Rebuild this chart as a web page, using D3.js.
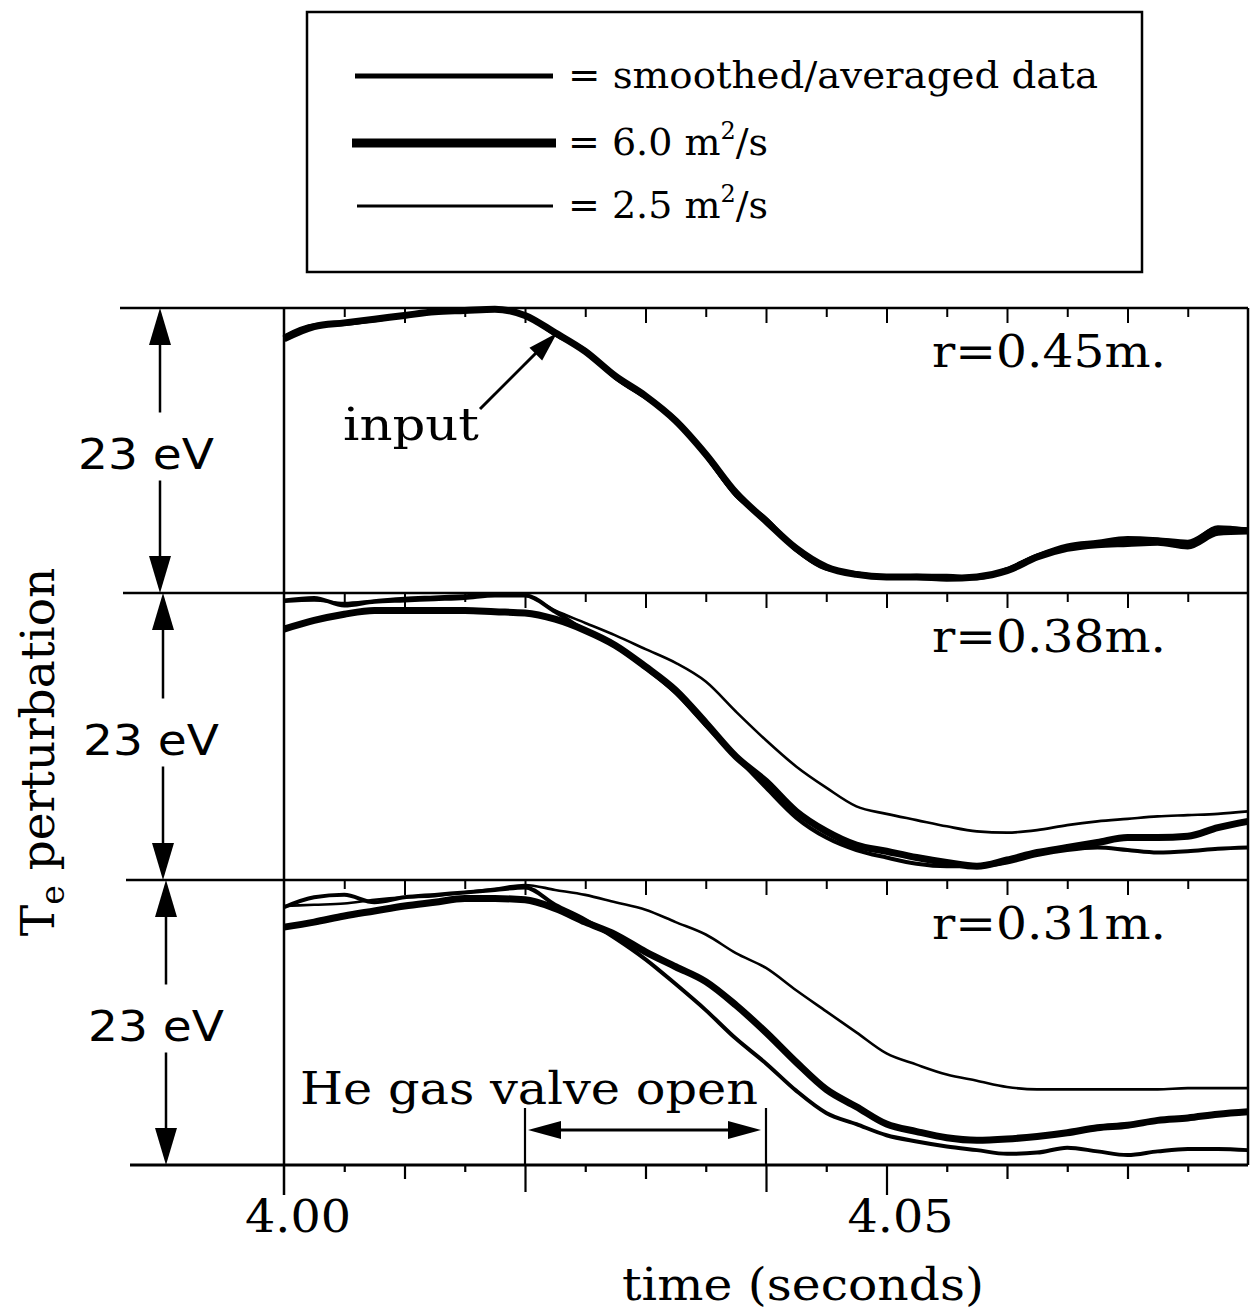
<!DOCTYPE html>
<html>
<head>
<meta charset="utf-8">
<script src="https://cdn.jsdelivr.net/npm/d3@7/dist/d3.min.js"></script>
<style>
  body { margin: 0; background: #fff; }
  text { fill: #000; }
</style>
</head>
<body>
<div id="chart"></div>
<script>
// time grid of the traces (s)
const TIMES = [4.0000, 4.0025, 4.0050, 4.0075, 4.0100, 4.0125, 4.0150, 4.0175, 4.0200, 4.0225,
               4.0250, 4.0275, 4.0300, 4.0325, 4.0350, 4.0375, 4.0400, 4.0425, 4.0450, 4.0475,
               4.0500, 4.0525, 4.0550, 4.0575, 4.0600, 4.0625, 4.0650, 4.0675, 4.0700, 4.0725,
               4.0750, 4.0775, 4.0800];

const PANEL_LABELS = ['r=0.45m.', 'r=0.38m.', 'r=0.31m.'];
const SPAN_EV = 23;

// Te perturbation (eV above the panel baseline), r = 0.45 m
const SMOOTHED_045 = [20.7, 21.6, 21.7, 22.0, 22.4, 22.7, 22.8, 22.9, 22.4, 20.9, 19.6, 17.4, 15.8, 14.0, 11.1, 7.9,
                      6.0, 3.5, 2.0, 1.6, 1.3, 1.4, 1.4, 1.2, 1.9, 3.0, 3.7, 4.0, 4.3, 4.3, 4.0, 5.3, 5.1];
const CHI60_045 = [20.5, 21.5, 21.8, 22.1, 22.4, 22.7, 22.8, 22.9, 22.4, 21.0, 19.5, 17.5, 15.9, 13.9, 11.2, 8.1,
                   5.8, 3.6, 2.1, 1.5, 1.3, 1.3, 1.2, 1.3, 1.8, 2.9, 3.6, 3.9, 4.0, 4.1, 3.8, 4.9, 5.0];
const CHI25_045 = [20.7, 21.6, 21.7, 22.0, 22.3, 22.6, 22.8, 22.9, 22.4, 20.8, 19.5, 17.3, 15.7, 14.0, 11.0, 7.8,
                   5.9, 3.4, 1.9, 1.6, 1.4, 1.4, 1.3, 1.2, 2.0, 3.1, 3.9, 4.2, 4.5, 4.4, 4.2, 5.3, 5.2];

// r = 0.38 m
const SMOOTHED_038 = [22.4, 22.6, 22.0, 22.3, 22.4, 22.5, 22.6, 22.8, 22.8, 21.5, 20.0, 18.7, 17.0, 15.0, 12.4, 9.9,
                      7.4, 5.0, 3.4, 2.4, 1.8, 1.3, 1.1, 1.1, 1.4, 2.0, 2.4, 2.6, 2.4, 2.2, 2.3, 2.5, 2.6];
const CHI60_038 = [20.1, 20.8, 21.3, 21.6, 21.6, 21.6, 21.6, 21.5, 21.4, 20.9, 20.0, 18.8, 17.1, 15.2, 12.6, 9.9,
                   7.9, 5.5, 3.9, 2.8, 2.3, 1.8, 1.4, 1.1, 1.6, 2.2, 2.6, 3.0, 3.4, 3.4, 3.5, 4.2, 4.7];
const CHI25_038 = [22.3, 22.4, 22.2, 22.4, 22.6, 22.7, 22.8, 22.9, 22.8, 21.6, 20.6, 19.6, 18.5, 17.4, 15.9, 13.5,
                   11.2, 9.1, 7.4, 5.9, 5.3, 4.8, 4.3, 3.9, 3.8, 4.0, 4.4, 4.7, 4.9, 5.1, 5.2, 5.3, 5.5];

// r = 0.31 m
const SMOOTHED_031 = [20.8, 21.6, 21.8, 21.2, 21.6, 21.8, 22.0, 22.2, 22.4, 21.0, 19.8, 18.3, 16.6, 14.6, 12.5, 10.2,
                      8.2, 6.0, 4.2, 3.3, 2.4, 1.9, 1.5, 1.2, 0.9, 1.0, 1.4, 1.1, 0.8, 1.1, 1.3, 1.3, 1.2];
const CHI60_031 = [19.2, 19.6, 20.1, 20.5, 20.9, 21.2, 21.5, 21.5, 21.4, 20.7, 19.6, 18.6, 17.2, 16.0, 14.8, 12.9,
                   10.7, 8.3, 6.1, 4.7, 3.3, 2.7, 2.2, 2.0, 2.1, 2.3, 2.6, 3.0, 3.2, 3.6, 3.8, 4.1, 4.3];
const CHI25_031 = [20.9, 21.0, 21.1, 21.4, 21.6, 21.7, 22.0, 22.3, 22.6, 22.2, 21.8, 21.2, 20.6, 19.6, 18.6, 17.1,
                   15.9, 14.1, 12.4, 10.7, 9.0, 8.1, 7.3, 6.8, 6.3, 6.1, 6.1, 6.1, 6.1, 6.1, 6.2, 6.2, 6.2];

const SERIES_NAMES = ['smoothed/averaged data', '6.0 m²/s', '2.5 m²/s'];
const PANEL_SERIES = [
  [SMOOTHED_045, CHI60_045, CHI25_045],
  [SMOOTHED_038, CHI60_038, CHI25_038],
  [SMOOTHED_031, CHI60_031, CHI25_031],
];

const X_LABELS = [4.00, 4.05];
const VALVE_OPEN = [4.02, 4.04];

// ---- layout ----
const W = 1250, H = 1315;
const SERIF = '"DejaVu Serif", "Liberation Serif", serif';
const SANS = '"DejaVu Sans", "Liberation Sans", sans-serif';
const PANEL_TOPS = [308, 593, 880];
const PANEL_BOTTOM = 1165;
const STROKES = [4, 7, 2.6];

const svg = d3.select('#chart').append('svg')
  .attr('width', W).attr('height', H)
  .style('font-family', SERIF);

const x = d3.scaleLinear().domain([4.00, 4.08]).range([284, 1248]);

function arrowHead(g, tipX, tipY, dirX, dirY, len, half) {
  const bx = tipX - dirX * len, by = tipY - dirY * len;
  const px = -dirY * half, py = dirX * half;
  g.append('path')
    .attr('d', `M${tipX},${tipY}L${bx + px},${by + py}L${bx - px},${by - py}Z`)
    .attr('fill', '#000');
}

// ---- legend ----
const legend = svg.append('g');
legend.append('rect')
  .attr('x', 307).attr('y', 12).attr('width', 835).attr('height', 260)
  .attr('fill', 'none').attr('stroke', '#000').attr('stroke-width', 2.5);
const legendY = [76, 143, 206];
const legendSample = [[355, 553], [352, 556], [357, 553]];
SERIES_NAMES.forEach((name, i) => {
  legend.append('line')
    .attr('x1', legendSample[i][0]).attr('x2', legendSample[i][1])
    .attr('y1', legendY[i]).attr('y2', legendY[i])
    .attr('stroke', '#000').attr('stroke-width', i === 1 ? 9 : (i === 0 ? 5 : 3));
  const t = legend.append('text')
    .attr('x', 568).attr('y', legendY[i] + 12)
    .attr('font-size', 38);
  if (i === 0) {
    t.text('= ' + name).attr('textLength', 530).attr('lengthAdjust', 'spacingAndGlyphs');
  } else {
    const parts = name.split('²');
    t.append('tspan').text('= ' + parts[0]);
    t.append('tspan').text('2').attr('font-size', 24).attr('dy', -16);
    t.append('tspan').text(parts[1]).attr('dy', 16);
  }
});

// ---- panels ----
const plot = svg.append('g');

PANEL_TOPS.forEach((top, p) => {
  const bottom = p < 2 ? PANEL_TOPS[p + 1] : PANEL_BOTTOM;
  const y = d3.scaleLinear().domain([0, SPAN_EV]).range([bottom, top]);

  // separator line on top of panel
  plot.append('line')
    .attr('x1', 120 + p * 3).attr('x2', 1248)
    .attr('y1', top).attr('y2', top)
    .attr('stroke', '#000').attr('stroke-width', 2.5);

  // inward ticks hanging from top line
  const inner = d3.axisBottom(x)
    .tickValues(d3.range(1, 16).map(i => 4 + i * 0.005))
    .tickSize(9).tickFormat('');
  const ig = plot.append('g').attr('transform', `translate(0,${top})`).call(inner);
  ig.select('.domain').remove();
  ig.selectAll('.tick line')
    .attr('stroke-width', 2)
    .attr('y2', d => (Math.round(d * 1000) % 10 === 0 ? 15 : 9));

  // traces
  const line = d3.line()
    .x((d, i) => x(TIMES[i]))
    .y(d => y(d))
    .curve(d3.curveMonotoneX);
  [2, 0, 1].forEach(s => {
    plot.append('path')
      .datum(PANEL_SERIES[p][s])
      .attr('d', line)
      .attr('fill', 'none')
      .attr('stroke', '#000')
      .attr('stroke-width', STROKES[s])
      .attr('stroke-linejoin', 'round');
  });

  // panel label
  plot.append('text')
    .attr('x', 1166).attr('y', top + 59)
    .attr('text-anchor', 'end')
    .attr('font-size', 45)
    .attr('textLength', 234).attr('lengthAdjust', 'spacingAndGlyphs')
    .text(PANEL_LABELS[p]);

  // 23 eV span marker
  const ax = 160 + p * 3;
  const mid = (top + bottom) / 2;
  const span = plot.append('g');
  span.append('line').attr('x1', ax).attr('x2', ax).attr('y1', top + 30).attr('y2', mid - 38)
    .attr('stroke', '#000').attr('stroke-width', 2.5);
  span.append('line').attr('x1', ax).attr('x2', ax).attr('y1', mid + 30).attr('y2', bottom - 30)
    .attr('stroke', '#000').attr('stroke-width', 2.5);
  arrowHead(span, ax, top, 0, -1, 37, 11);
  arrowHead(span, ax, bottom, 0, 1, 37, 11);
  span.append('text')
    .attr('x', ax - 14 + p * 2).attr('y', mid + 18)
    .attr('text-anchor', 'middle')
    .attr('font-family', SANS)
    .attr('font-size', 42)
    .attr('textLength', 136).attr('lengthAdjust', 'spacingAndGlyphs')
    .text(SPAN_EV + ' eV');
});

// left and right frame lines
plot.append('line').attr('x1', x(4.00)).attr('x2', x(4.00))
  .attr('y1', PANEL_TOPS[0]).attr('y2', PANEL_BOTTOM + 30)
  .attr('stroke', '#000').attr('stroke-width', 2.5);
plot.append('line').attr('x1', x(4.08)).attr('x2', x(4.08))
  .attr('y1', PANEL_TOPS[0]).attr('y2', PANEL_BOTTOM)
  .attr('stroke', '#000').attr('stroke-width', 2.5);

// bottom axis line
plot.append('line').attr('x1', 130).attr('x2', 1248)
  .attr('y1', PANEL_BOTTOM).attr('y2', PANEL_BOTTOM)
  .attr('stroke', '#000').attr('stroke-width', 3);

// bottom ticks
const bottomTicks = d3.range(1, 16).map(i => 4 + i * 0.005);
const bx = d3.axisBottom(x).tickValues(bottomTicks).tickSize(7).tickFormat('');
const bg = plot.append('g').attr('transform', `translate(0,${PANEL_BOTTOM})`).call(bx);
bg.select('.domain').remove();
bg.selectAll('.tick line')
  .attr('stroke-width', 2.2)
  .attr('y2', d => {
    const k = Math.round(d * 1000);
    if (k % 50 === 0) return 30;
    if (k === 4020 || k === 4040) return 27;
    return k % 10 === 0 ? 14 : 7;
  });

// tick labels
plot.selectAll('.xlab').data(X_LABELS).enter().append('text')
  .attr('x', d => x(d) + 14).attr('y', 1232)
  .attr('text-anchor', 'middle')
  .attr('font-size', 45)
  .attr('textLength', 106).attr('lengthAdjust', 'spacingAndGlyphs')
  .text(d => d.toFixed(2));

// axis titles
svg.append('text')
  .attr('x', 803).attr('y', 1300)
  .attr('text-anchor', 'middle')
  .attr('font-size', 45)
  .attr('textLength', 362).attr('lengthAdjust', 'spacingAndGlyphs')
  .text('time (seconds)');

const yTitle = svg.append('text')
  .attr('transform', 'translate(54,752) rotate(-90)')
  .attr('text-anchor', 'middle')
  .attr('font-size', 47);
yTitle.append('tspan').text('T');
yTitle.append('tspan').text('e').attr('font-size', 33).attr('dy', 10);
yTitle.append('tspan').text(' perturbation').attr('dy', -10);

// gas valve annotation
const vx0 = x(VALVE_OPEN[0]), vx1 = x(VALVE_OPEN[1]);
[vx0, vx1].forEach(v => {
  plot.append('line').attr('x1', v).attr('x2', v).attr('y1', 1108).attr('y2', PANEL_BOTTOM)
    .attr('stroke', '#000').attr('stroke-width', 2.2);
});
plot.append('line').attr('x1', vx0 + 30).attr('x2', vx1 - 30).attr('y1', 1130).attr('y2', 1130)
  .attr('stroke', '#000').attr('stroke-width', 3);
arrowHead(plot, vx0 + 3, 1130, -1, 0, 33, 9);
arrowHead(plot, vx1 - 5, 1130, 1, 0, 33, 9);
plot.append('text')
  .attr('x', 300).attr('y', 1104)
  .attr('font-size', 45)
  .attr('textLength', 458).attr('lengthAdjust', 'spacingAndGlyphs')
  .text('He gas valve open');

// "input" pointer
plot.append('text')
  .attr('x', 343).attr('y', 440)
  .attr('font-size', 45)
  .attr('textLength', 136).attr('lengthAdjust', 'spacingAndGlyphs')
  .text('input');
plot.append('line').attr('x1', 480).attr('y1', 409).attr('x2', 538).attr('y2', 351)
  .attr('stroke', '#000').attr('stroke-width', 3);
arrowHead(plot, 557, 333, Math.SQRT1_2, -Math.SQRT1_2, 30, 9);
</script>
</body>
</html>
